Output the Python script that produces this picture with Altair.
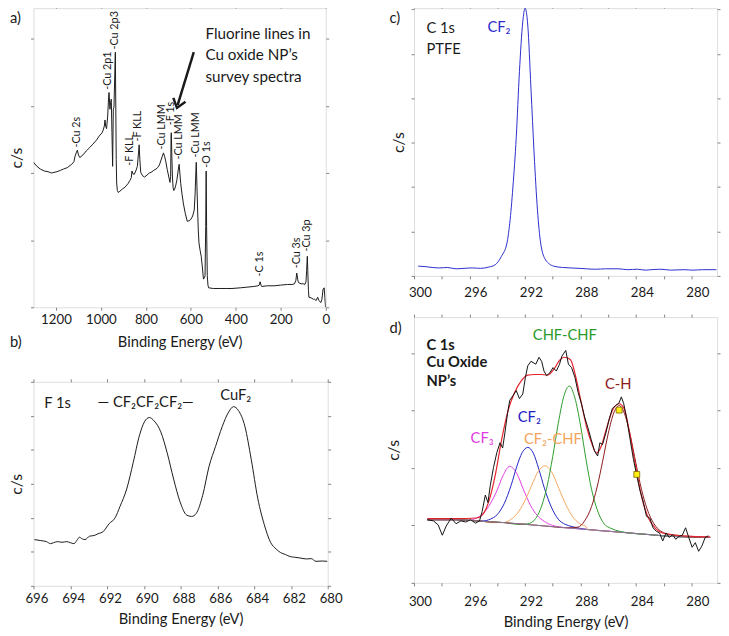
import altair as alt
import pandas as pd

FONT = "Lato"
FRAME = "#808080"
INK = "#1a1a1a"

# ---------------- a) survey spectrum ----------------
a_be = [1300,1285,1270,1252,1235,1220,1209,1195,1180,1166,
        1150,1130,1120,1116,1110,1105,1100,1094,1080,1065,
        1050,1036,1020,1008,995,990,985,982,979,975,
        970,966,964,960,957,954,951,948,945,942,
        939,936,934,932,930,927,923,919,905,893,
        880,871,865,862,858,852,845,838,833,830,
        827,823,815,806,795,785,777,765,755,748,
        740,734,728,722,717,712,705,698,693,690,
        688,687,685,682,679,676,672,667,662,658,
        654,652,649,645,640,633,625,616,608,600,
        592,585,581,578,576,573,570,567,564,559,
        554,549,544,540,537,534,532,530,527,524,
        521,500,470,440,417,380,350,320,302,296,
        292,288,285,260,230,201,170,150,139,133,
        129,125,122,110,100,93,88,85,82,80,
        77,75,65,55,50,43,36,30,22,17,
        12,7,4,1]
a_cps = [2.16,2.10,2.06,2.03,2.02,2.00,2.01,2.02,2.04,2.06,
         2.08,2.13,2.17,2.24,2.30,2.34,2.27,2.23,2.27,2.33,
         2.38,2.43,2.49,2.55,2.60,2.64,2.70,2.79,2.70,2.66,
         2.85,3.12,3.20,2.95,3.05,3.10,2.60,2.10,2.95,2.98,
         3.40,3.80,3.00,2.20,1.85,1.74,1.71,1.72,1.76,1.79,
         1.84,1.89,1.93,2.03,1.99,1.98,2.03,2.10,2.30,2.42,
         2.20,2.01,1.96,1.94,1.97,2.00,2.01,2.04,2.06,2.08,
         2.12,2.18,2.24,2.30,2.25,2.18,2.05,1.94,1.86,1.95,
         2.55,2.60,2.30,1.94,1.78,1.74,1.76,1.82,1.90,2.00,
         2.10,2.13,2.00,1.84,1.70,1.54,1.40,1.28,1.29,1.31,
         1.36,1.45,1.70,2.00,2.16,1.80,1.45,1.15,0.96,0.85,
         0.76,0.60,0.42,0.44,0.47,1.20,2.03,1.20,0.47,0.33,
         0.29,0.28,0.28,0.28,0.28,0.29,0.30,0.31,0.32,0.33,
         0.38,0.33,0.31,0.32,0.32,0.33,0.34,0.34,0.35,0.40,
         0.51,0.42,0.37,0.35,0.35,0.34,0.38,0.55,0.76,0.55,
         0.25,0.15,0.14,0.12,0.12,0.10,0.15,0.10,0.07,0.12,
         0.27,0.29,0.15,0.0]
a_lab_be = [1105, 967, 936, 872, 833, 730, 688, 651, 576, 530, 292, 126, 82]
a_lab_v = [2.38, 3.24, 3.84, 2.11, 2.47, 2.35, 2.71, 2.20, 2.23, 2.08, 0.46, 0.58, 0.83]
a_lab_txt = ["-Cu 2s", "-Cu 2p1", "-Cu 2p3", "-F KLL", "-F KLL", "-Cu LMM", "-F 1s",
             "-Cu LMM", "-Cu LMM", "-O 1s", "-C 1s", "-Cu 3s", "-Cu 3p"]
a_note_txt = ["Fluorine lines in", "Cu oxide NP\u2019s", "survey spectra"]
a_note_be = [535, 535, 535]
a_note_v = [4.07, 3.75, 3.43]
a_arrow_be = [587, 659]
a_arrow_v = [3.80, 3.01]
a_head_be = [662]
a_head_v = [2.97]

# ---------------- b) F 1s ----------------
b_be = [695.95,695.6,695.3,695.07,694.9,694.7,694.45,694.2,694.0,693.8,
        693.65,693.5,693.35,693.2,692.95,692.7,692.5,692.2,691.9,691.55,
        691.3,690.93,690.58,690.23,689.97,689.7,689.44,689.08,688.73,688.38,
        688.03,687.67,687.4,687.15,686.8,686.45,686.1,685.74,685.39,685.12,
        684.86,684.5,684.16,683.8,683.45,683.1,682.8,682.57,682.3,682.04,
        681.8,681.52,681.16,680.9,680.64,680.3,680.02]
b_cps = [1.36,1.33,1.30,1.24,1.27,1.30,1.28,1.30,1.27,1.24,
         1.33,1.43,1.38,1.36,1.46,1.48,1.53,1.60,1.82,2.01,
         2.33,2.85,3.62,4.44,4.82,4.95,4.85,4.53,3.91,3.14,
         2.47,2.08,2.04,2.13,2.66,3.52,4.10,4.68,5.11,5.27,
         5.16,4.68,3.72,2.56,1.80,1.27,1.08,0.98,0.92,0.86,
         0.84,0.82,0.79,0.80,0.72,0.73,0.72]
b_lab_txt = ["F 1s", "\u2014 CF\u2082CF\u2082CF\u2082\u2014", "CuF\u2082"]
b_lab_be = [695.42, 689.9, 685.0]
b_lab_v = [5.36, 5.39, 5.62]

# ---------------- c) C 1s PTFE ----------------
c_be = [299.7,299.2,298.7,298.15,297.6,296.97,296.4,295.8,295.2,294.6,
        294.15,293.7,293.3,293.1,292.87,292.63,292.4,292.16,291.99,291.8,
        291.57,291.34,291.1,290.87,290.51,289.93,289.3,288.75,288.1,287.58,
        286.9,286.2,285.23,284.6,283.9,283.3,282.9,282.2,281.5,280.54,
        279.9,279.2,278.2]
c_cps = [0.22,0.21,0.19,0.18,0.19,0.16,0.17,0.18,0.17,0.20,
         0.25,0.44,0.74,1.18,2.00,3.12,4.60,5.72,6.03,5.65,
         4.23,2.75,1.48,0.74,0.36,0.22,0.19,0.18,0.17,0.16,
         0.15,0.16,0.16,0.14,0.15,0.13,0.14,0.15,0.13,0.14,
         0.13,0.14,0.14]
c_head_txt = ["C 1s", "PTFE"]
c_head_v = [5.58, 5.11]

# ---------------- d) C 1s Cu oxide NPs ----------------
d_be = [299.04,298.6,298.26,297.96,297.68,297.32,296.97,296.62,296.27,295.92,
        295.56,295.28,295.09,294.86,294.67,294.5,294.27,294.03,293.8,293.61,
        293.45,293.26,293.1,292.87,292.63,292.4,292.16,291.97,291.8,291.57,
        291.22,290.99,290.8,290.63,290.44,290.21,289.98,289.74,289.51,289.34,
        289.06,288.87,288.64,288.4,288.17,287.93,287.7,287.46,287.23,286.99,
        286.76,286.6,286.41,286.17,285.94,285.7,285.47,285.23,285.05,284.88,
        284.65,284.42,284.18,283.94,283.71,283.47,283.24,283.0,282.77,282.54,
        282.3,282.07,281.83,281.6,281.36,281.13,280.89,280.66,280.42,280.19,
        279.95,279.72,279.48,279.25,279.01,278.78]
d_cps = [1.10,1.08,1.01,0.83,0.99,1.13,1.03,1.08,1.06,1.10,
         1.04,1.08,1.24,1.53,1.40,1.70,2.01,2.27,2.44,2.35,
         2.61,2.95,3.18,3.26,3.35,3.21,3.29,3.58,3.78,3.86,
         3.81,3.93,3.86,3.69,3.61,3.66,3.75,3.69,3.81,3.95,
         4.05,3.81,3.75,3.58,3.32,3.12,2.89,2.70,2.50,2.30,
         2.21,2.44,2.41,2.61,2.84,3.04,3.09,3.13,3.24,3.12,
         2.84,2.50,2.15,1.87,1.61,1.41,1.16,1.13,0.96,0.90,
         0.87,0.73,0.87,0.79,0.84,0.76,0.81,0.83,0.96,0.79,
         0.62,0.70,0.55,0.64,0.79,0.82]
env_be = [299.04,297.0,295.5,295.09,294.62,294.15,293.68,293.21,292.74,292.27,
          291.8,291.3,290.86,290.39,289.92,289.5,289.2,288.73,288.38,288.03,
          287.56,287.2,286.85,286.5,286.15,285.68,285.21,284.86,284.5,284.03,
          283.56,283.1,282.63,281.92,280.52,278.65]
env_cps = [1.12,1.12,1.13,1.18,1.41,1.87,2.50,3.01,3.32,3.52,
           3.62,3.63,3.63,3.62,3.72,3.88,3.93,3.89,3.63,3.24,
           2.72,2.44,2.26,2.38,2.67,3.01,3.12,3.04,2.67,2.04,
           1.47,1.13,0.96,0.86,0.82,0.80]
bg_be = [299.04,297.0,295.0,293.5,292.0,290.5,289.0,287.5,286.0,284.5,283.0,281.5,280.0,278.65]
bg_cps = [1.10,1.10,1.07,1.05,1.02,0.99,0.96,0.93,0.90,0.87,0.84,0.81,0.80,0.79]
cf3_be = [296.0,295.5,295.0,294.5,294.0,293.6,293.1,292.6,292.1,291.6,291.1,290.6,290.0]
cf3_cps = [1.09,1.13,1.21,1.38,1.62,1.86,2.03,1.91,1.62,1.35,1.17,1.07,1.00]
cf2_be = [295.0,294.5,294.0,293.5,293.0,292.6,292.2,291.8,291.4,291.0,290.6,290.1,289.6,289.1,288.6]
cf2_cps = [1.08,1.11,1.19,1.38,1.70,2.02,2.27,2.36,2.26,1.98,1.65,1.32,1.11,1.02,0.98]
cfchf_be = [294.5,293.55,293.05,292.55,292.05,291.55,291.05,290.55,290.05,289.55,289.05,288.55,288.05,287.55]
cfchf_cps = [1.05,1.05,1.10,1.21,1.41,1.68,1.94,2.04,1.92,1.64,1.36,1.15,1.03,0.97]
chf_be = [292.5,291.8,291.3,290.8,290.4,290.0,289.6,289.2,288.8,288.4,288.0,287.6,287.2,286.8,286.3,285.8]
chf_cps = [1.02,1.03,1.10,1.34,1.69,2.20,2.78,3.25,3.43,3.22,2.75,2.15,1.63,1.28,1.03,0.95]
ch_be = [289.0,288.2,287.7,287.2,286.8,286.4,286.0,285.6,285.2,284.8,284.4,284.0,283.6,283.2,282.7,282.2,281.5]
ch_cps = [0.96,0.97,1.08,1.33,1.67,2.12,2.60,2.96,3.09,2.93,2.56,2.08,1.63,1.29,1.03,0.90,0.84]
comp_names = ["Background", "CF3", "CF2", "CF2-CHF", "CHF-CHF", "C-H"]
comp_colors = ["#8a7a9a", "#e23ae2", "#2222c4", "#f4a55c", "#2a9a2a", "#8b1a1a"]
mark_be = [285.21, 283.94]
mark_cps = [3.01, 1.89]
d_lab_txt = ["CHF-CHF", "C-H", "CF\u2082", "CF\u2082-CHF", "CF\u2083"]
d_lab_be = [289.13, 285.28, 291.69, 289.99, 295.09]
d_lab_v = [4.32, 3.46, 2.89, 2.50, 2.52]
d_lab_col = ["#2a9a2a", "#8b1a1a", "#2222c4", "#f4a55c", "#e23ae2"]
d_head_txt = ["C 1s", "Cu Oxide", "NP\u2019s"]
d_head_v = [4.15, 3.85, 3.52]


def df(be, v, **extra):
    d = pd.DataFrame({"be": be, "v": v})
    for k, val in extra.items():
        d[k] = val
    return d


def make_panel(main_df, xdom, ydom, xvals, yvals, w, h, tag, tag_xy,
               xtitle, lpad, tpad, ytpad, extra_layers, expr=None, off=0):
    xs = alt.Scale(domain=xdom, reverse=True, nice=False, zero=False)
    ys = alt.Scale(domain=ydom, nice=False, zero=False)
    xkw = dict(values=xvals, format="d", grid=False, domain=False, tickSize=3, tickColor=FRAME,
               labelFont=FONT, labelFontSize=13.5, labelColor=INK, labelPadding=lpad,
               labelFlush=False, labelOverlap=False, labelAngle=0, labelOffset=off,
               titleFont=FONT, titleFontSize=15, titleFontWeight="normal",
               titleColor=INK, titlePadding=tpad, title=xtitle)
    if expr:
        xkw["labelExpr"] = expr
    yax = alt.Axis(values=yvals, labels=False, grid=False, domain=False, tickSize=3,
                   tickColor=FRAME, title="c/s", titleFont=FONT, titleFontSize=16,
                   titleFontWeight="normal", titleColor=INK, titlePadding=ytpad)
    axes = alt.Chart(main_df).mark_line(opacity=0).encode(
        x=alt.X("be:Q", scale=xs, axis=alt.Axis(**xkw)),
        y=alt.Y("v:Q", scale=ys, axis=yax))
    mirror = alt.Chart(main_df).mark_line(opacity=0).encode(
        x=alt.X("be:Q", scale=xs, axis=alt.Axis(orient="top", values=xvals, labels=False,
                                                 title=None, tickSize=3, tickColor=FRAME,
                                                 domain=False, grid=False, minExtent=0)),
        y=alt.Y("v:Q", scale=ys, axis=alt.Axis(orient="right", values=yvals, labels=False,
                                                title=None, tickSize=3, tickColor=FRAME,
                                                domain=False, grid=False, minExtent=0)))
    X = alt.X("be:Q", scale=xs, axis=None)
    Y = alt.Y("v:Q", scale=ys, axis=None)
    layers = [f(X, Y) for f in extra_layers]
    tag_layer = alt.Chart(pd.DataFrame({"t": [tag]})).mark_text(
        align="left", baseline="middle", font=FONT, fontSize=15, color=INK
    ).encode(x=alt.value(tag_xy[0]), y=alt.value(tag_xy[1]), text="t:N")
    return alt.layer(axes, mirror, *layers, tag_layer).resolve_axis(
        x="independent", y="independent").properties(width=w, height=h)


# ---- panel a
a_df = df(a_be, a_cps)
a_layers = [
    lambda X, Y: alt.Chart(a_df).mark_line(color=INK, strokeWidth=1, clip=True).encode(x=X, y=Y),
    lambda X, Y: alt.Chart(df(a_lab_be, a_lab_v, t=a_lab_txt)).mark_text(
        angle=270, align="left", baseline="middle", font=FONT, fontSize=11, color=INK
    ).encode(x=X, y=Y, text="t:N"),
    lambda X, Y: alt.Chart(df(a_note_be, a_note_v, t=a_note_txt)).mark_text(
        align="left", baseline="middle", font=FONT, fontSize=15.5, color=INK
    ).encode(x=X, y=Y, text="t:N"),
    lambda X, Y: alt.Chart(df(a_arrow_be, a_arrow_v)).mark_line(
        color=INK, strokeWidth=2.5).encode(x=X, y=Y),
    lambda X, Y: alt.Chart(df(a_head_be, a_head_v)).mark_point(
        shape="M -0.75 -1 L 0 0 L 0.75 -1", filled=False, stroke=INK, strokeWidth=2.5,
        size=300, angle=17, opacity=1).encode(x=X, y=Y),
]
pa = make_panel(a_df, [0, 1300], [0, 4.456], list(range(0, 1201, 200)), [0, 1, 2, 3, 4],
                298, 305, "a)", (-24, 10), "Binding Energy (eV)", 3, 8, 6, a_layers)

# ---- panel b
b_df = df(b_be, b_cps)
b_layers = [
    lambda X, Y: alt.Chart(b_df).mark_line(color=INK, strokeWidth=1, clip=True,
                                           interpolate="monotone").encode(x=X, y=Y),
    lambda X, Y: alt.Chart(df(b_lab_be[:1], b_lab_v[:1], t=b_lab_txt[:1])).mark_text(
        align="left", baseline="middle", font=FONT, fontSize=15, color=INK
    ).encode(x=X, y=Y, text="t:N"),
    lambda X, Y: alt.Chart(df(b_lab_be[1:], b_lab_v[1:], t=b_lab_txt[1:])).mark_text(
        align="center", baseline="middle", font=FONT, fontSize=15, color=INK
    ).encode(x=X, y=Y, text="t:N"),
]
pb = make_panel(b_df, [680, 696], [0, 6.0], list(range(680, 697, 2)), [0, 1, 2, 3, 4, 5, 6],
                300, 208, "b)", (-24, -40), "Binding Energy (eV)", 3, 7, 6, b_layers, off=3)

# ---- panel c
c_df = df(c_be, c_cps)
c_layers = [
    lambda X, Y: alt.Chart(c_df).mark_line(color="#2b2bcc", strokeWidth=1, clip=True,
                                           interpolate="monotone").encode(x=X, y=Y),
    lambda X, Y: alt.Chart(df([299.1, 299.1], c_head_v, t=c_head_txt)).mark_text(
        align="left", baseline="middle", font=FONT, fontSize=15, color=INK
    ).encode(x=X, y=Y, text="t:N"),
    lambda X, Y: alt.Chart(df([293.88], [5.60], t=["CF\u2082"])).mark_text(
        align="center", baseline="middle", font=FONT, fontSize=15, color="#2b2bcc"
    ).encode(x=X, y=Y, text="t:N"),
]
x_cd = list(range(280, 301, 2))
expr4 = "datum.value % 4 == 0 ? datum.label : ''"
pc = make_panel(c_df, [278.15, 300], [0, 6.03], x_cd, [0, 1, 2, 3, 4, 5, 6],
                309, 273, "c)", (-25, 10), None, 7, 9, 4, c_layers, expr=expr4, off=6)

# ---- panel d
d_df = df(d_be, d_cps)
comp_rows = []
for name, be, v in [("CF3", cf3_be, cf3_cps), ("CF2", cf2_be, cf2_cps),
                    ("CF2-CHF", cfchf_be, cfchf_cps), ("CHF-CHF", chf_be, chf_cps),
                    ("C-H", ch_be, ch_cps)]:
    lo, hi = min(be), max(be)
    for b_, v_ in zip(bg_be, bg_cps):
        if b_ < lo or b_ > hi:
            comp_rows.append((name, b_, v_))
    for b_, v_ in zip(be, v):
        comp_rows.append((name, b_, v_))
for b_, v_ in zip(bg_be, bg_cps):
    comp_rows.append(("Background", b_, v_))
comp_df = pd.DataFrame(comp_rows, columns=["comp", "be", "v"])

d_layers = [
    lambda X, Y: alt.Chart(comp_df).mark_line(strokeWidth=1, clip=True,
                                              interpolate="monotone").encode(
        x=X, y=Y, color=alt.Color("comp:N", scale=alt.Scale(domain=comp_names, range=comp_colors),
                                  legend=None)),
    lambda X, Y: alt.Chart(df(env_be, env_cps)).mark_line(
        color="#e4222a", strokeWidth=1.2, clip=True, interpolate="monotone").encode(x=X, y=Y),
    lambda X, Y: alt.Chart(d_df).mark_line(color="#111111", strokeWidth=1, clip=True).encode(x=X, y=Y),
    lambda X, Y: alt.Chart(df(mark_be, mark_cps)).mark_square(
        size=36, color="#ffee11", stroke="#7a6000", strokeWidth=0.8, opacity=1).encode(x=X, y=Y),
    lambda X, Y: alt.Chart(df([299.1] * 3, d_head_v, t=d_head_txt)).mark_text(
        align="left", baseline="middle", font=FONT, fontSize=15, fontWeight="bold", color=INK
    ).encode(x=X, y=Y, text="t:N"),
    lambda X, Y: alt.Chart(df(d_lab_be, d_lab_v, t=d_lab_txt, c=d_lab_col)).mark_text(
        align="center", baseline="middle", font=FONT, fontSize=15
    ).encode(x=X, y=Y, text="t:N", color=alt.Color("c:N", scale=None)),
]
pd_ = make_panel(d_df, [278.15, 300], [0, 4.63], x_cd, [0, 1, 2, 3, 4],
                 309, 271, "d)", (-25, 11), "Binding Energy (eV)", 9, 7, 9, d_layers,
                 expr=expr4, off=6)

left = alt.vconcat(pa, pb, spacing=76, bounds="flush")
right = alt.vconcat(pc, pd_, spacing=42, bounds="flush")
chart = alt.hconcat(left, right, spacing=43).properties(
    padding={"top": -10, "left": 0, "right": 0, "bottom": 0}
).configure_view(stroke=FRAME, strokeWidth=1).configure(font=FONT)

chart.save("out.html", embed_options={"renderer": "svg", "actions": False})
